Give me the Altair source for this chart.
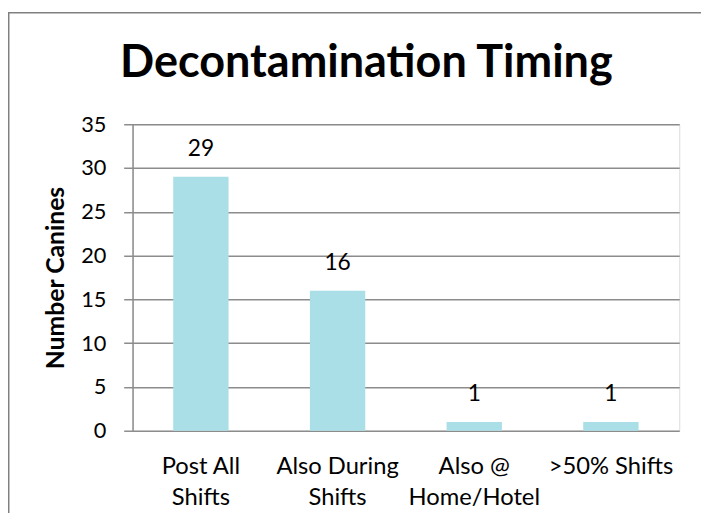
import altair as alt
import pandas as pd

categories = ["Post All|Shifts", "Also During|Shifts", "Also @|Home/Hotel", ">50% Shifts"]
counts = [29, 16, 1, 1]
y_ticks = [0, 5, 10, 15, 20, 25, 30, 35]

df = pd.DataFrame({"cat": categories, "n": counts})

W, H = 553, 310
FONT = "Lato"
GRAY = "#8c8c8c"

base = alt.Chart(df).encode(
    x=alt.X("cat:N", sort=categories, title=None,
            scale=alt.Scale(paddingInner=0.595, paddingOuter=0.2975),
            axis=alt.Axis(labelExpr="split(datum.label, '|')", labelAngle=0,
                          labelFont=FONT, labelFontSize=24, labelColor="#000",
                          labelLineHeight=31.5, labelPadding=24, ticks=False,
                          domain=False, labelBaseline="top")),
)

bars = base.mark_bar(color="#aadfe8").encode(
    y=alt.Y("n:Q", title="Number Canines",
            scale=alt.Scale(domain=[0, 35], nice=False),
            axis=alt.Axis(values=y_ticks, grid=True, gridColor=GRAY, gridWidth=1.5,
                          domainColor=GRAY, domainWidth=1.5,
                          tickColor=GRAY, tickWidth=1.5, tickSize=9,
                          labelFont=FONT, labelFontSize=22, labelColor="#000",
                          labelPadding=18,
                          titleFont=FONT, titleFontSize=25, titleFontWeight="bold",
                          titleColor="#000", titlePadding=12)),
)

labels = base.mark_text(font=FONT, fontSize=23, color="#000", dy=-21,
                        baseline="alphabetic").encode(
    y="n:Q", text="n:Q")

frame = alt.Chart(alt.Data(values=[{}]))
left_line = frame.mark_rule(color="#808080", strokeWidth=1.5).encode(
    x=alt.value(-125.25), y=alt.value(-112.7), y2=alt.value(H + 120))
top_line = frame.mark_rule(color="#808080", strokeWidth=1.5).encode(
    x=alt.value(-126), x2=alt.value(W + 40), y=alt.value(-112.7))

chart = alt.layer(bars, labels, left_line, top_line).properties(
    width=W, height=H,
    padding={"left": 126, "top": 114.7, "right": 22, "bottom": 80},
    autosize=alt.AutoSizeParams(type="none"),
    title=alt.TitleParams("Decontamination Timing", font=FONT, fontSize=45.5,
                          fontWeight="bold", color="#000", anchor="middle",
                          baseline="alphabetic", dx=-40, offset=-111),
).configure_view(stroke=None).configure(background="white")

chart.save("out.html", embed_options={"renderer": "svg", "actions": False})
